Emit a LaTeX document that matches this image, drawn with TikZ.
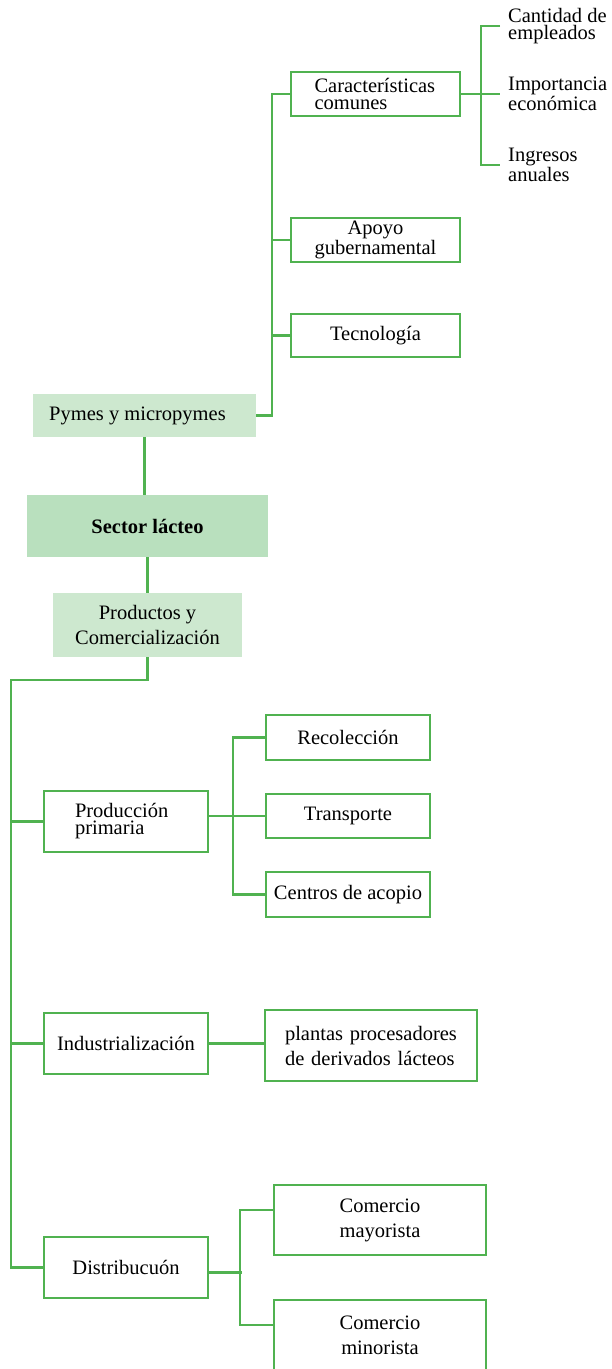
\documentclass[tikz,border=0pt]{standalone}
\usepackage{fontspec}
\setmainfont{Liberation Serif}
\usepackage{tikz}

\definecolor{verde}{RGB}{80,178,80}
\definecolor{claro}{RGB}{205,232,207}
\definecolor{medio}{RGB}{185,224,190}

\begin{document}
\begin{tikzpicture}[x=1pt,y=-1pt,
  apretado/.style={font=\fontsize{20.5}{17}\selectfont},
  suelto/.style={font=\fontsize{20.5}{25}\selectfont},
  caja/.style={draw=verde,line width=2.5pt,fill=white,inner sep=2pt,align=center,apretado},
  fondo/.style={fill=claro,inner sep=2pt,align=center,apretado},
  hoja/.style={anchor=west,inner xsep=8pt,inner ysep=0pt,align=left,apretado},
  linea/.style={draw=verde,line width=2.5pt}]

\useasboundingbox (0,0) rectangle (611,1369);
\clip (0,0) rectangle (611,1369);

\node[caja]   (car)[minimum width=169,minimum height=44,text width=122,align=left]  at (375.5,94)   {Características\\comunes};
\node[caja]   (apo)[minimum width=169,minimum height=44]  at (375.5,240)  {Apoyo\\gubernamental};
\node[caja]   (tec)[minimum width=169,minimum height=43]  at (375.5,335.5) {Tecnología};

\node[hoja]   (cant)  at (500,26)   {Cantidad de\\empleados};
\node[hoja]   (impo)  at (500,94)   {Importancia\\económica};
\node[hoja]   (ingr)  at (500,165)  {Ingresos\\anuales};

\node[fondo]  (pym)[minimum width=223,minimum height=43]  at (144.5,415.5) {Pymes y micropymes\hspace{14pt}};
\node[fondo]  (sec)[fill=medio,minimum width=241,minimum height=62,font=\fontsize{20.5}{17}\selectfont\bfseries]  at (147.5,526) {Sector lácteo};
\node[fondo]  (pro)[minimum width=189,minimum height=64,suelto]  at (147.5,625) {Productos y\\Comercialización};

\node[caja]   (prim)[minimum width=164,minimum height=61,text width=102,align=left]  at (126,821.5) {Producción\\primaria};
\node[caja]   (rec)[minimum width=164,minimum height=45]  at (348,737.5) {Recolección};
\node[caja]   (tra)[minimum width=164,minimum height=44]  at (348,816)   {Transporte};
\node[caja]   (cen)[minimum width=164,minimum height=45]  at (348,894.5) {Centros de acopio};

\node[caja]   (ind)[minimum width=164,minimum height=61]  at (126,1043.5) {Industrialización};
\node[caja]   (pla)[minimum width=212,minimum height=71,text width=172,align=left,suelto]  at (371,1045.5) {plantas procesadores\\de derivados lácteos};

\node[caja]   (dis)[minimum width=164,minimum height=61]  at (126,1267.5) {Distribucuón};
\node[caja]   (may)[minimum width=212,minimum height=70,suelto]  at (380,1220) {Comercio\\mayorista};
\node[caja]   (min)[minimum width=212,minimum height=70,suelto]  at (380,1335) {Comercio\\minorista};

\coordinate (codo) at (11,680);

\draw[linea] (pym.east) -- ++(16,0) |- (car.west);
\draw[linea] (apo.west) -- ++(-19,0);
\draw[linea] (tec.west) -- ++(-19,0);
\draw[linea] (cant.west) -- ++(-19,0) |- (ingr.west);
\draw[linea] (car.east) -- (impo.west);

\draw[linea] (pym.south) -- (pym.south |- sec.north);
\draw[linea] (sec.south) -- (pro.north);
\draw[linea] (pro.south) |- (codo) |- (dis.west);
\draw[linea] (prim.west) -- ++(-33,0);
\draw[linea] (ind.west) -- ++(-33,0);

\draw[linea] (rec.west) -- ++(-32,0) |- (cen.west);
\draw[linea] (prim.east |- tra.west) -- (tra.west);
\draw[linea] (ind.east) -- (ind.east -| pla.west);
\draw[linea] ([yshift=10pt]may.west) -- ++(-33,0) |- ([yshift=10pt]min.west);
\draw[linea] ([yshift=-5pt]dis.east) -- ++(33,0);

\end{tikzpicture}
\end{document}
